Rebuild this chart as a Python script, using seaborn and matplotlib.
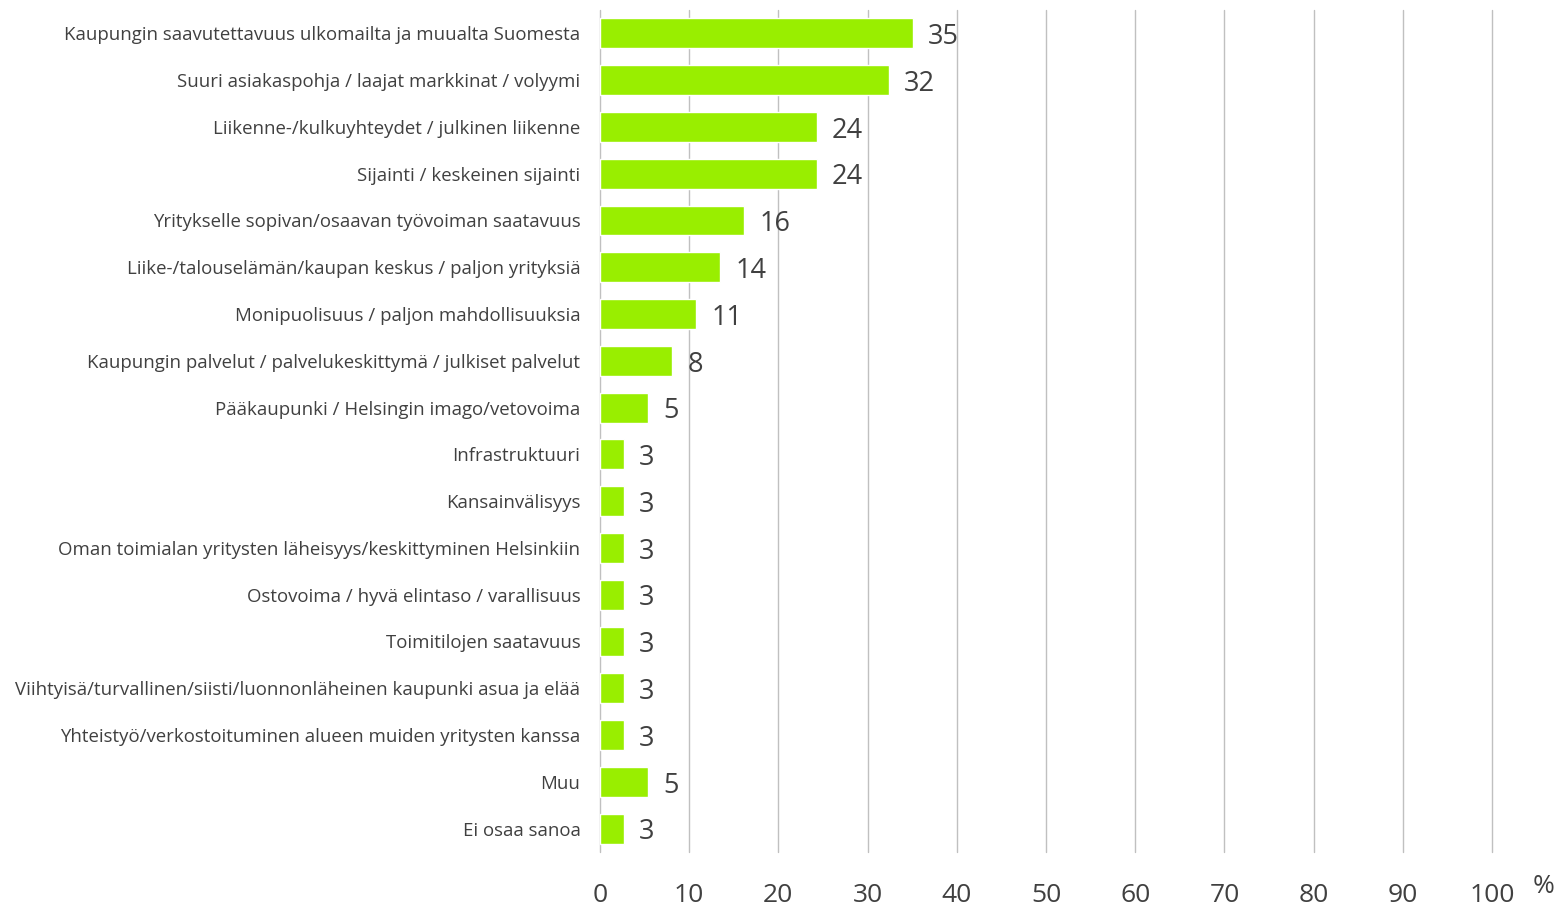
import matplotlib
matplotlib.use("Agg")
import matplotlib.pyplot as plt
import seaborn as sns
import pandas as pd

categories = [
    "Kaupungin saavutettavuus ulkomailta ja muualta Suomesta",
    "Suuri asiakaspohja / laajat markkinat / volyymi",
    "Liikenne-/kulkuyhteydet / julkinen liikenne",
    "Sijainti / keskeinen sijainti",
    "Yritykselle sopivan/osaavan työvoiman saatavuus",
    "Liike-/talouselämän/kaupan keskus / paljon yrityksiä",
    "Monipuolisuus / paljon mahdollisuuksia",
    "Kaupungin palvelut / palvelukeskittymä / julkiset palvelut",
    "Pääkaupunki / Helsingin imago/vetovoima",
    "Infrastruktuuri",
    "Kansainvälisyys",
    "Oman toimialan yritysten läheisyys/keskittyminen Helsinkiin",
    "Ostovoima / hyvä elintaso / varallisuus",
    "Toimitilojen saatavuus",
    "Viihtyisä/turvallinen/siisti/luonnonläheinen kaupunki asua ja elää",
    "Yhteistyö/verkostoituminen alueen muiden yritysten kanssa",
    "Muu",
    "Ei osaa sanoa",
]
values = [35.1, 32.4, 24.3, 24.3, 16.2, 13.5, 10.8, 8.1, 5.4,
          2.7, 2.7, 2.7, 2.7, 2.7, 2.7, 2.7, 5.4, 2.7]
xticks = [0, 10, 20, 30, 40, 50, 60, 70, 80, 90, 100]

df = pd.DataFrame({"cat": categories, "val": values})

sns.set_style("white")
plt.rcParams["font.family"] = ["Open Sans", "DejaVu Sans"]
txt = "#404040"

fig = plt.figure(figsize=(15.58, 9.06), dpi=100)
ax = fig.add_axes([0.385, 0.0596, 0.5727, 0.9294])

sns.barplot(data=df, y="cat", x="val", color="#99ee00", saturation=1,
            width=0.64, ax=ax, orient="h")

ax.set_xlim(0, 100)
ax.set_ylim(len(categories) - 0.5, -0.5)
ax.set_xticks(xticks)
ax.set_xticklabels([str(t) for t in xticks], fontsize=19, color=txt)
ax.tick_params(axis="x", length=0, pad=22)
ax.tick_params(axis="y", length=0, pad=14, labelsize=13.4, labelcolor=txt)
ax.xaxis.grid(True, color="#c0c0c0", linewidth=1)
for gl in ax.get_xgridlines():
    gl.set_clip_on(False)
ax.set_axisbelow(True)
for s in ax.spines.values():
    s.set_visible(False)
ax.set_xlabel("")
ax.set_ylabel("")

for i, v in enumerate(values):
    ax.text(v + 1.7, i + 0.08, str(round(v)), va="center", ha="left",
            fontsize=19.5, color=txt)

fig.text(0.998, 0.008, "%", fontsize=19, color=txt, ha="right", va="bottom")

fig.savefig("out.png", dpi=100)
